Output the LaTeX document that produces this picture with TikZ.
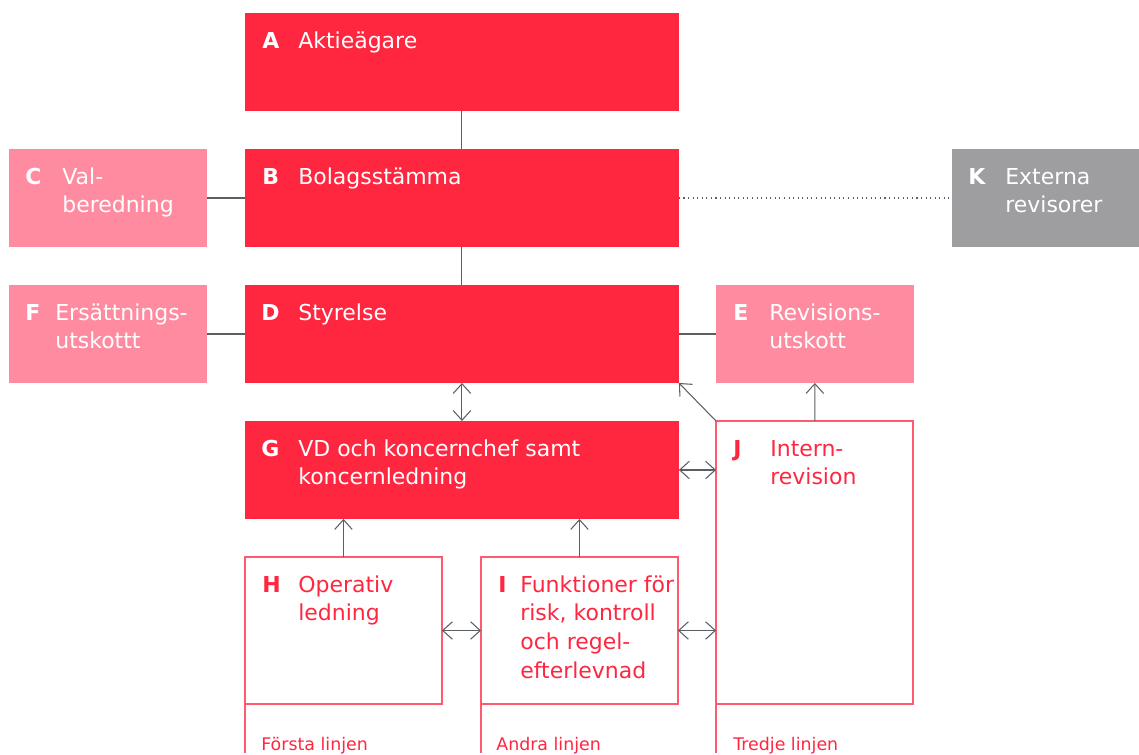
\documentclass[tikz,border=0pt]{standalone}
\usepackage{fontspec}
\setmainfont{DejaVu Sans}
\usepackage{xcolor}
\usetikzlibrary{arrows.meta}
\definecolor{brand}{HTML}{FF2640}
\definecolor{soft}{HTML}{FF8BA0}
\definecolor{stone}{HTML}{9E9EA0}
\definecolor{rim}{HTML}{FF5A6E}
\definecolor{wire}{HTML}{5A5F64}
\newcommand\stack[1]{\begin{tabular}[t]{@{}l@{}}#1\end{tabular}}
\tikzset{
  box/.style={anchor=north west, inner sep=0pt, outer sep=0pt, minimum height=1.96cm},
  wide/.style={box, minimum width=8.68cm},
  side/.style={box, minimum width=3.96cm},
  redbox/.style={fill=brand},
  pinkbox/.style={fill=soft},
  greybox/.style={fill=stone},
  linebox/.style={draw=rim, line width=0.8pt, minimum width=3.94cm},
  key/.style={anchor=base west, inner sep=0pt, text=white, font=\fontsize{12.5}{16.4}\selectfont\bfseries},
  txt/.style={anchor=base west, inner sep=0pt, text=white, font=\fontsize{12.5}{16.4}\selectfont},
  redtxt/.style={text=brand},
  foot/.style={anchor=base west, inner sep=0pt, text=brand, font=\fontsize{9.9}{12}\selectfont},
  wire/.style={draw=wire, line width=0.6pt},
  dotline/.style={draw=wire, line width=0.6pt, dotted},
  oneway/.style={wire, -{Straight Barb[length=5.5pt,width=10pt]}},
  twoway/.style={wire, {Straight Barb[length=5.5pt,width=10pt]}-{Straight Barb[length=5.5pt,width=10pt]}},
  rimline/.style={draw=rim, line width=0.8pt}
}

\begin{document}
\begin{tikzpicture}[x=0.02cm, y=-0.02cm]
  \useasboundingbox (0,0) rectangle (1139,754);

  % boxes
  \node[wide, redbox] (A) at (245,13) {};
  \node[wide, redbox] (B) at (245,149) {};
  \node[side, pinkbox] (C) at (9,149) {};
  \node[side, greybox] (K) at (952,149) {};
  \node[wide, redbox] (D) at (245,285) {};
  \node[side, pinkbox] (F) at (9,285) {};
  \node[side, pinkbox] (E) at (716,285) {};
  \node[wide, redbox] (G) at (245,421) {};
  \node[box, linebox, minimum height=5.66cm] (J) at (716,421) {};
  \node[box, linebox, minimum height=2.94cm] (H) at (245,557) {};
  \node[box, linebox, minimum height=2.94cm] (I) at (481,557) {};

  % texts
  \node[key] (kA) at ([shift={(17,35)}]A.north west) {A};
  \node[txt] (tA) at ([shift={(53,35)}]A.north west) {Aktieägare};
  \node[key] (kB) at ([shift={(17,35)}]B.north west) {B};
  \node[txt] (tB) at ([shift={(53,35)}]B.north west) {Bolagsstämma};
  \node[key] (kC) at ([shift={(16,35)}]C.north west) {C};
  \node[txt] (tC) at ([shift={(53,35)}]C.north west) {\stack{Val-\\beredning}};
  \node[key] (kK) at ([shift={(16,35)}]K.north west) {K};
  \node[txt] (tK) at ([shift={(53,35)}]K.north west) {\stack{Externa\\revisorer}};
  \node[key] (kD) at ([shift={(16,35)}]D.north west) {D};
  \node[txt] (tD) at ([shift={(53,35)}]D.north west) {Styrelse};
  \node[key] (kF) at ([shift={(16,35)}]F.north west) {F};
  \node[txt] (tF) at ([shift={(46,35)}]F.north west) {\stack{Ersättnings-\\utskottt}};
  \node[key] (kE) at ([shift={(17,35)}]E.north west) {E};
  \node[txt] (tE) at ([shift={(53,35)}]E.north west) {\stack{Revisions-\\utskott}};
  \node[key] (kG) at ([shift={(16,35)}]G.north west) {G};
  \node[txt] (tG) at ([shift={(53,35)}]G.north west) {\stack{VD och koncernchef samt\\koncernledning}};
  \node[key, redtxt] (kJ) at ([shift={(17,35)}]J.north west) {J};
  \node[txt, redtxt] (tJ) at ([shift={(54,35)}]J.north west) {\stack{Intern-\\revision}};
  \node[key, redtxt] (kH) at ([shift={(17,35)}]H.north west) {H};
  \node[txt, redtxt] (tH) at ([shift={(53,35)}]H.north west) {\stack{Operativ\\ledning}};
  \node[key, redtxt] (kI) at ([shift={(17,35)}]I.north west) {I};
  \node[txt, redtxt] (tI) at ([shift={(39,35)}]I.north west) {\stack{Funktioner för\\risk, kontroll\\och regel-\\efterlevnad}};

  % connectors
  \draw[wire] (A) -- (B);
  \draw[wire] (B) -- (D);
  \draw[wire] (C) -- (B);
  \draw[dotline] (B) -- (K);
  \draw[wire] (F) -- (D);
  \draw[wire] (D) -- (E);
  \draw[twoway] (D) -- (G);
  \draw[twoway] (G.east) -- (G.east -| J.west);
  \draw[oneway] (H) -- (H |- G.south);
  \draw[oneway] (I) -- (I |- G.south);
  \draw[twoway] (H) -- (I);
  \draw[twoway] (I.east) -- (I.east -| J.west);
  \draw[oneway] (J) -- (E);
  \draw[oneway] (J.north west) -- (D.south east);

  % lines of defence
  \coordinate (hb) at ([yshift=-49*0.02cm]H.south west);
  \coordinate (ib) at ([yshift=-49*0.02cm]I.south west);
  \coordinate (jb) at ([yshift=-49*0.02cm]J.south west);
  \draw[rimline] (H.south west) -- (hb);
  \draw[rimline] (I.south west) -- (ib);
  \draw[rimline] (J.south west) -- (jb);
  \node[foot] (fH) at ([shift={(16,47)}]H.south west) {Första linjen};
  \node[foot] (fI) at ([shift={(15,47)}]I.south west) {Andra linjen};
  \node[foot] (fJ) at ([shift={(17,47)}]J.south west) {Tredje linjen};
\end{tikzpicture}
\end{document}
